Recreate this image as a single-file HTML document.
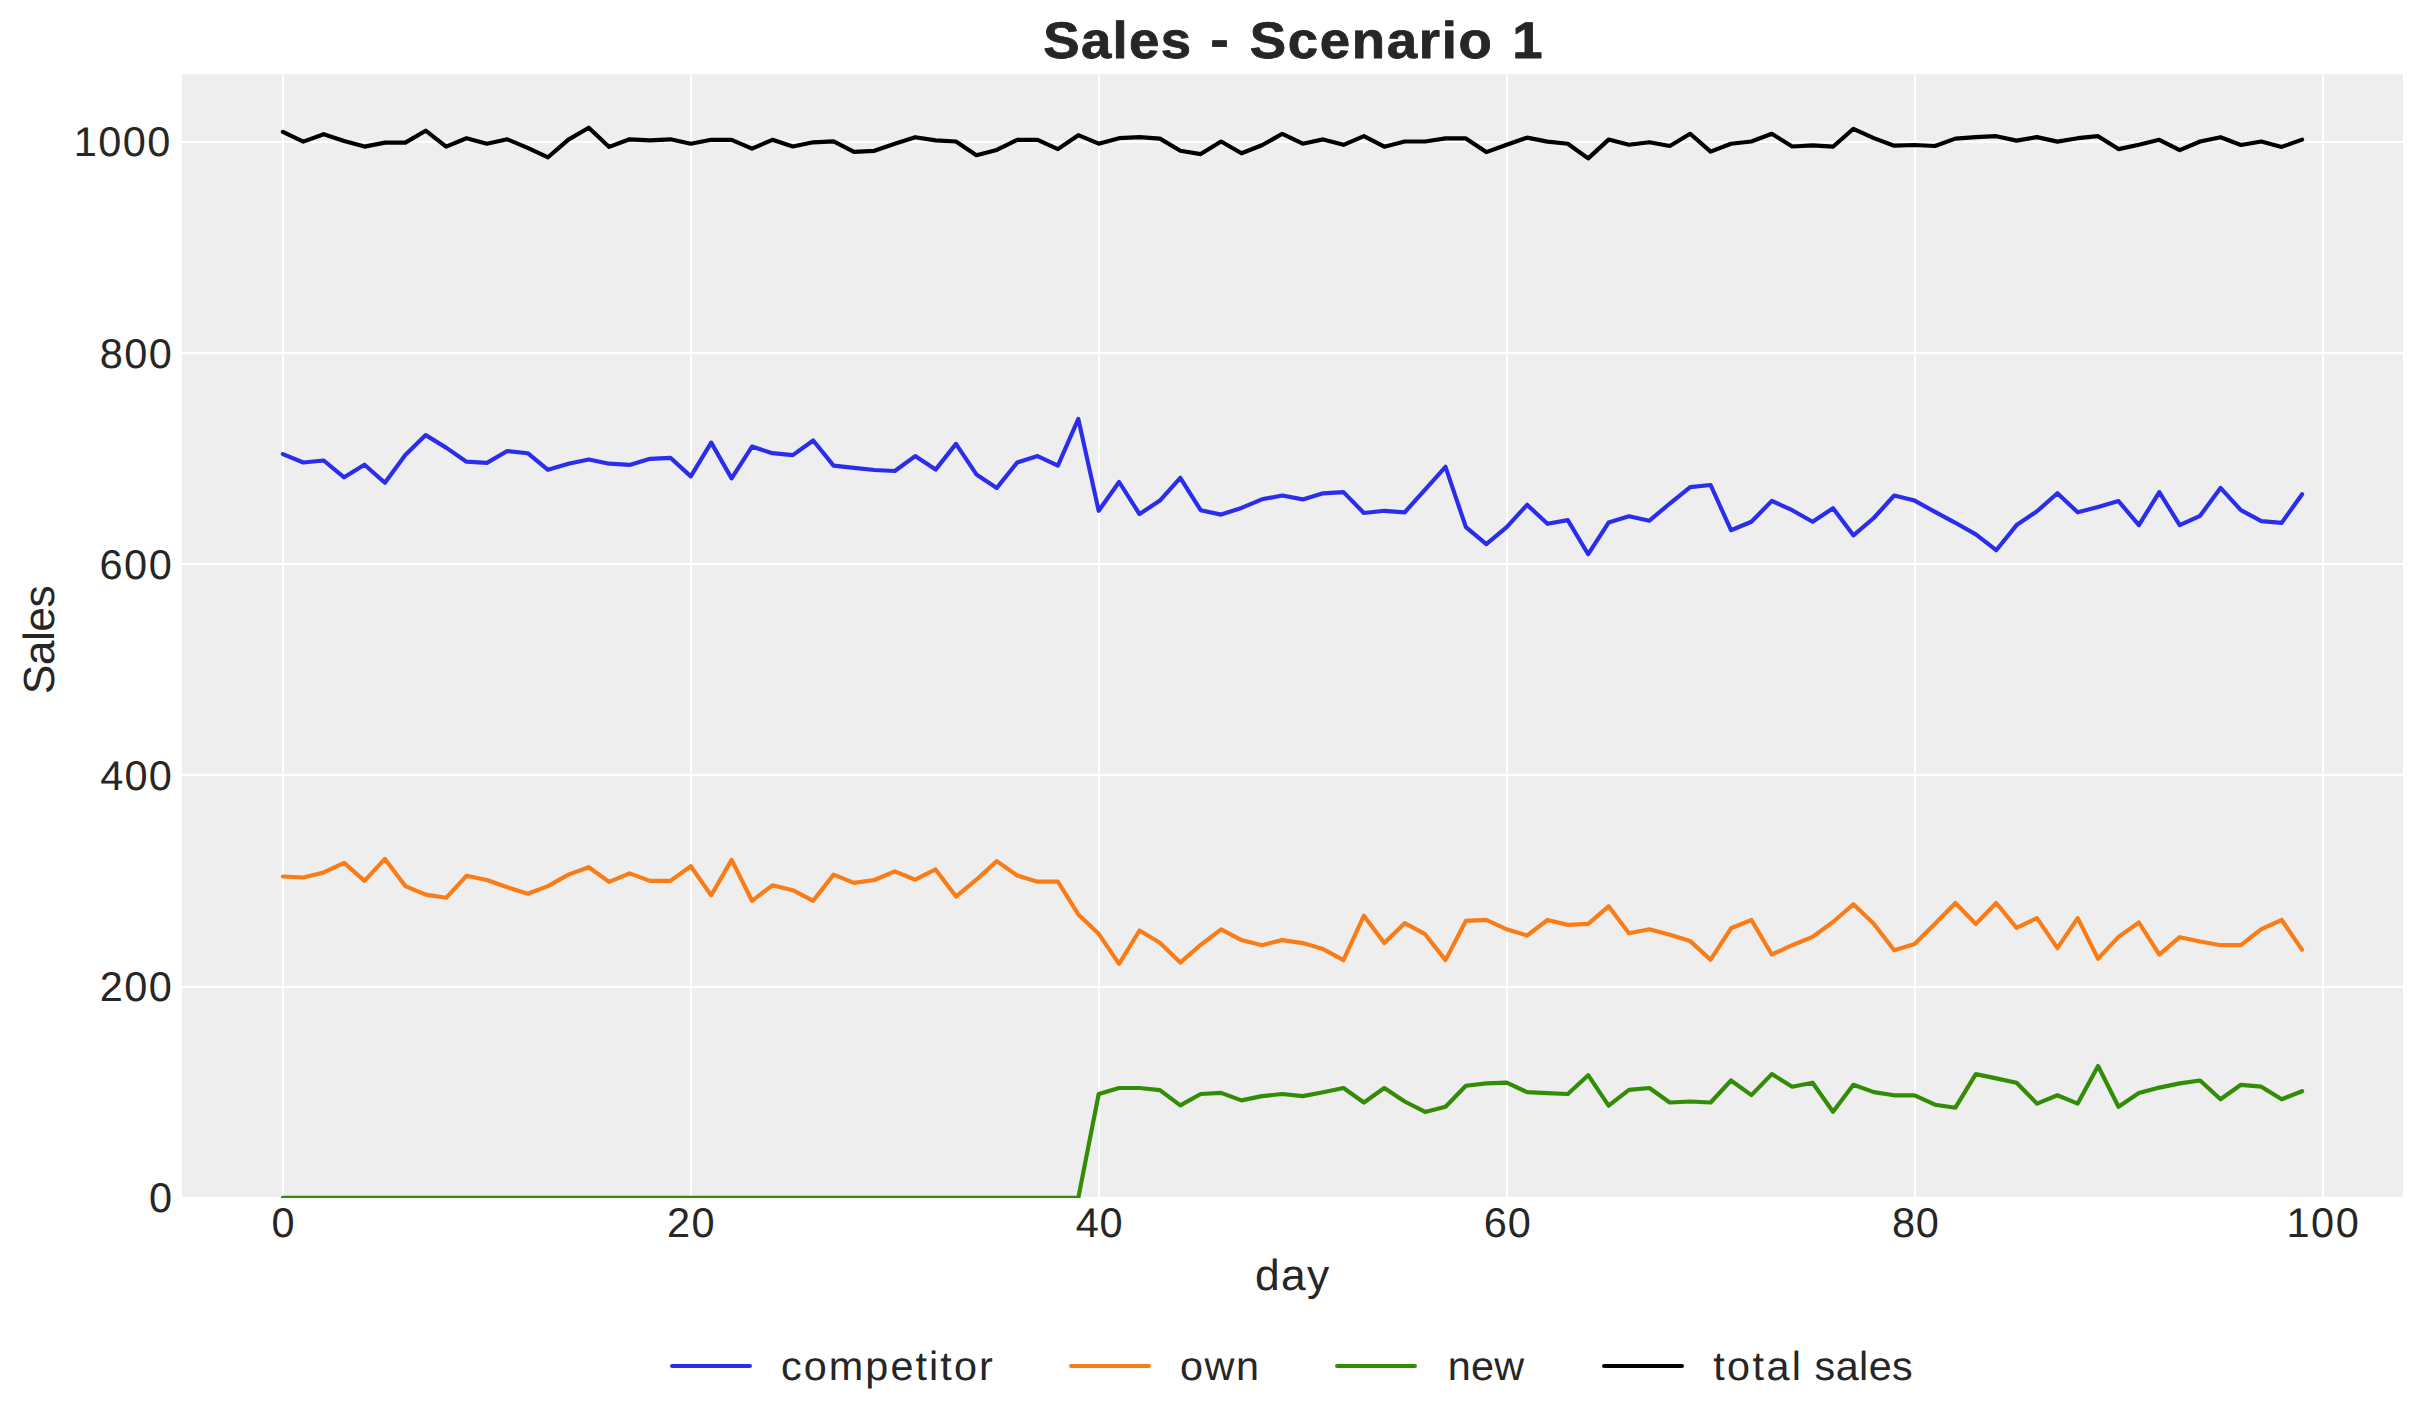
<!DOCTYPE html>
<html><head><meta charset="utf-8"><title>Sales - Scenario 1</title>
<style>
html,body{margin:0;padding:0;background:#ffffff;}
body{width:2423px;height:1423px;overflow:hidden;font-family:"Liberation Sans", sans-serif;}
svg{display:block;}
text{font-family:"Liberation Sans", sans-serif;fill:#262626;font-kerning:none;white-space:pre;text-rendering:geometricPrecision;}
.tk{font-size:41.5px;}
.lb{font-size:43.5px;}
.lg{font-size:40.6px;}
.tt{font-size:51.5px;font-weight:bold;}
.ln{fill:none;stroke-width:4.17;stroke-linecap:round;stroke-linejoin:round;}
.grid{fill:#ffffff;}
</style></head><body>
<svg width="2423" height="1423" viewBox="0 0 2423 1423">
<rect x="0" y="0" width="2423" height="1423" fill="#ffffff"/>
<rect x="182.0" y="74.0" width="2221.00" height="1122.90" fill="#eeeeee"/>
<defs>
<clipPath id="ax"><rect x="182.0" y="74.0" width="2221.00" height="1122.90"/></clipPath>
<clipPath id="axl"><rect x="182.0" y="74.0" width="2221.00" height="1124.00"/></clipPath>
</defs>
<g clip-path="url(#ax)">
<rect class="grid" x="282.0" y="74.0" width="2" height="1122.90"/>
<rect class="grid" x="690.0" y="74.0" width="2" height="1122.90"/>
<rect class="grid" x="1098.0" y="74.0" width="2" height="1122.90"/>
<rect class="grid" x="1506.0" y="74.0" width="2" height="1122.90"/>
<rect class="grid" x="1914.0" y="74.0" width="2" height="1122.90"/>
<rect class="grid" x="2322.0" y="74.0" width="2" height="1122.90"/>
<rect class="grid" x="182.0" y="986.0" width="2221.00" height="2"/>
<rect class="grid" x="182.0" y="774.0" width="2221.00" height="2"/>
<rect class="grid" x="182.0" y="563.0" width="2221.00" height="2"/>
<rect class="grid" x="182.0" y="352.0" width="2221.00" height="2"/>
<rect class="grid" x="182.0" y="141.0" width="2221.00" height="2"/>
</g>
<g clip-path="url(#axl)">
<path class="ln" stroke="#2a2eec" d="M282.9,454.1 L303.3,462.5 L323.7,460.5 L344.1,477.3 L364.5,464.7 L384.9,482.8 L405.3,454.9 L425.7,435.1 L446.1,447.6 L466.5,461.7 L486.9,462.9 L507.3,451.0 L527.7,453.2 L548.0,469.8 L568.4,463.7 L588.8,459.5 L609.2,463.7 L629.6,464.9 L650.0,458.8 L670.4,457.8 L690.8,476.4 L711.2,442.6 L731.6,478.4 L752.0,446.6 L772.4,453.2 L792.8,455.1 L813.2,440.5 L833.6,465.6 L854.0,467.9 L874.4,470.0 L894.8,471.0 L915.2,456.1 L935.6,469.6 L956.0,443.9 L976.4,474.4 L996.8,487.9 L1017.2,462.5 L1037.6,456.1 L1057.9,465.6 L1078.3,418.9 L1098.7,510.8 L1119.1,482.0 L1139.5,514.1 L1159.9,500.6 L1180.3,477.8 L1200.7,510.2 L1221.1,514.6 L1241.5,507.9 L1261.9,499.3 L1282.3,495.5 L1302.7,499.4 L1323.1,493.3 L1343.5,492.1 L1363.9,513.0 L1384.3,510.8 L1404.7,512.3 L1425.1,489.6 L1445.5,466.8 L1465.9,527.2 L1486.3,544.1 L1506.7,527.2 L1527.1,504.8 L1547.5,523.8 L1567.8,520.1 L1588.2,554.2 L1608.6,522.6 L1629.0,516.3 L1649.4,520.7 L1669.8,503.5 L1690.2,487.1 L1710.6,485.0 L1731.0,530.2 L1751.4,521.8 L1771.8,500.9 L1792.2,510.2 L1812.6,521.8 L1833.0,508.2 L1853.4,535.3 L1873.8,518.0 L1894.2,495.5 L1914.6,500.6 L1935.0,511.9 L1955.4,522.8 L1975.8,534.4 L1996.2,550.2 L2016.6,525.1 L2037.0,511.3 L2057.4,493.3 L2077.7,512.3 L2098.1,506.9 L2118.5,501.1 L2138.9,525.1 L2159.3,492.1 L2179.7,525.1 L2200.1,515.8 L2220.5,487.9 L2240.9,510.2 L2261.3,521.1 L2281.7,522.8 L2302.1,494.2"/>
<path class="ln" stroke="#fa7c17" d="M282.9,876.5 L303.3,877.5 L323.7,872.4 L344.1,862.9 L364.5,880.9 L384.9,858.9 L405.3,886.1 L425.7,894.6 L446.1,897.8 L466.5,875.8 L486.9,880.0 L507.3,887.3 L527.7,893.7 L548.0,886.1 L568.4,874.6 L588.8,867.2 L609.2,881.9 L629.6,873.4 L650.0,880.9 L670.4,880.9 L690.8,866.2 L711.2,895.4 L731.6,859.9 L752.0,900.8 L772.4,885.3 L792.8,890.2 L813.2,900.8 L833.6,874.6 L854.0,882.9 L874.4,880.0 L894.8,871.4 L915.2,879.7 L935.6,869.4 L956.0,896.6 L976.4,879.7 L996.8,861.1 L1017.2,875.5 L1037.6,881.7 L1057.9,881.7 L1078.3,914.4 L1098.7,933.8 L1119.1,963.8 L1139.5,930.5 L1159.9,942.8 L1180.3,962.6 L1200.7,944.8 L1221.1,929.3 L1241.5,940.1 L1261.9,945.2 L1282.3,940.1 L1302.7,943.1 L1323.1,949.1 L1343.5,960.1 L1363.9,915.7 L1384.3,943.1 L1404.7,923.2 L1425.1,934.2 L1445.5,960.1 L1465.9,920.8 L1486.3,919.8 L1506.7,929.3 L1527.1,935.5 L1547.5,920.0 L1567.8,924.9 L1588.2,923.9 L1608.6,906.3 L1629.0,933.3 L1649.4,929.3 L1669.8,934.7 L1690.2,941.1 L1710.6,959.7 L1731.0,928.3 L1751.4,920.0 L1771.8,954.5 L1792.2,945.2 L1812.6,936.9 L1833.0,922.0 L1853.4,904.2 L1873.8,923.7 L1894.2,950.2 L1914.6,944.0 L1935.0,923.7 L1955.4,903.0 L1975.8,924.0 L1996.2,903.0 L2016.6,927.9 L2037.0,918.1 L2057.4,948.2 L2077.7,918.1 L2098.1,958.7 L2118.5,936.9 L2138.9,922.5 L2159.3,954.6 L2179.7,937.2 L2200.1,941.5 L2220.5,945.2 L2240.9,945.2 L2261.3,929.1 L2281.7,920.0 L2302.1,949.9"/>
<path class="ln" stroke="#328c06" d="M282.9,1197.8 L303.3,1197.8 L323.7,1197.8 L344.1,1197.8 L364.5,1197.8 L384.9,1197.8 L405.3,1197.8 L425.7,1197.8 L446.1,1197.8 L466.5,1197.8 L486.9,1197.8 L507.3,1197.8 L527.7,1197.8 L548.0,1197.8 L568.4,1197.8 L588.8,1197.8 L609.2,1197.8 L629.6,1197.8 L650.0,1197.8 L670.4,1197.8 L690.8,1197.8 L711.2,1197.8 L731.6,1197.8 L752.0,1197.8 L772.4,1197.8 L792.8,1197.8 L813.2,1197.8 L833.6,1197.8 L854.0,1197.8 L874.4,1197.8 L894.8,1197.8 L915.2,1197.8 L935.6,1197.8 L956.0,1197.8 L976.4,1197.8 L996.8,1197.8 L1017.2,1197.8 L1037.6,1197.8 L1057.9,1197.8 L1078.3,1197.8 L1098.7,1094.0 L1119.1,1088.0 L1139.5,1088.0 L1159.9,1090.1 L1180.3,1105.4 L1200.7,1094.0 L1221.1,1092.9 L1241.5,1100.4 L1261.9,1096.1 L1282.3,1094.0 L1302.7,1096.1 L1323.1,1092.2 L1343.5,1088.0 L1363.9,1102.5 L1384.3,1088.0 L1404.7,1101.5 L1425.1,1111.9 L1445.5,1106.8 L1465.9,1085.8 L1486.3,1083.4 L1506.7,1082.7 L1527.1,1092.1 L1547.5,1093.1 L1567.8,1094.0 L1588.2,1075.2 L1608.6,1105.7 L1629.0,1089.9 L1649.4,1088.0 L1669.8,1102.5 L1690.2,1101.5 L1710.6,1102.5 L1731.0,1080.5 L1751.4,1095.1 L1771.8,1074.1 L1792.2,1086.7 L1812.6,1082.7 L1833.0,1111.8 L1853.4,1084.8 L1873.8,1092.1 L1894.2,1095.3 L1914.6,1095.3 L1935.0,1104.7 L1955.4,1107.7 L1975.8,1074.1 L1996.2,1078.4 L2016.6,1082.7 L2037.0,1103.6 L2057.4,1095.3 L2077.7,1103.6 L2098.1,1066.0 L2118.5,1106.8 L2138.9,1093.1 L2159.3,1087.6 L2179.7,1083.4 L2200.1,1080.5 L2220.5,1099.3 L2240.9,1084.8 L2261.3,1086.7 L2281.7,1099.3 L2302.1,1091.2"/>
<path class="ln" stroke="#000000" d="M282.9,131.9 L303.3,141.6 L323.7,134.2 L344.1,140.9 L364.5,146.6 L384.9,142.6 L405.3,142.6 L425.7,130.7 L446.1,146.6 L466.5,138.3 L486.9,143.7 L507.3,139.3 L527.7,147.9 L548.0,157.3 L568.4,139.6 L588.8,127.7 L609.2,146.9 L629.6,139.3 L650.0,140.3 L670.4,139.3 L690.8,143.7 L711.2,139.8 L731.6,139.8 L752.0,148.7 L772.4,139.8 L792.8,146.5 L813.2,142.3 L833.6,141.3 L854.0,151.8 L874.4,150.8 L894.8,143.7 L915.2,137.2 L935.6,140.4 L956.0,141.5 L976.4,155.2 L996.8,149.9 L1017.2,139.8 L1037.6,139.8 L1057.9,149.1 L1078.3,135.2 L1098.7,143.7 L1119.1,138.2 L1139.5,137.2 L1159.9,138.6 L1180.3,150.8 L1200.7,154.1 L1221.1,141.5 L1241.5,153.3 L1261.9,145.3 L1282.3,133.8 L1302.7,143.7 L1323.1,139.4 L1343.5,144.8 L1363.9,136.2 L1384.3,146.7 L1404.7,141.5 L1425.1,141.5 L1445.5,138.4 L1465.9,138.4 L1486.3,152.1 L1506.7,144.8 L1527.1,137.6 L1547.5,141.6 L1567.8,143.7 L1588.2,158.4 L1608.6,139.6 L1629.0,144.8 L1649.4,142.3 L1669.8,146.0 L1690.2,133.8 L1710.6,151.6 L1731.0,143.7 L1751.4,141.5 L1771.8,133.8 L1792.2,146.5 L1812.6,145.3 L1833.0,146.7 L1853.4,128.8 L1873.8,138.1 L1894.2,145.7 L1914.6,145.0 L1935.0,146.0 L1955.4,138.6 L1975.8,137.2 L1996.2,136.2 L2016.6,140.6 L2037.0,137.1 L2057.4,141.6 L2077.7,138.2 L2098.1,136.2 L2118.5,149.1 L2138.9,144.8 L2159.3,139.8 L2179.7,150.1 L2200.1,141.5 L2220.5,137.2 L2240.9,145.0 L2261.3,141.5 L2281.7,146.9 L2302.1,139.6"/>
</g>
<text class="tk" transform="translate(73.84,156.35) scale(1.0,1)" x="0" y="0" style="letter-spacing:1.354px">1000</text>
<text class="tk" transform="translate(99.80,367.50) scale(1.0,1)" x="0" y="0" style="letter-spacing:1.392px">800</text>
<text class="tk" transform="translate(99.49,578.65) scale(1.0,1)" x="0" y="0" style="letter-spacing:1.544px">600</text>
<text class="tk" transform="translate(100.25,789.80) scale(1.0,1)" x="0" y="0" style="letter-spacing:1.166px">400</text>
<text class="tk" transform="translate(99.71,1000.95) scale(1.0,1)" x="0" y="0" style="letter-spacing:1.434px">200</text>
<text class="tk" transform="translate(148.98,1212.10) scale(1.0,1)" x="0" y="0" style="letter-spacing:0.000px">0</text>
<text class="tk" transform="translate(271.58,1237.00) scale(1.0,1)" x="0" y="0" style="letter-spacing:0.000px">0</text>
<text class="tk" transform="translate(666.91,1237.00) scale(1.0,1)" x="0" y="0" style="letter-spacing:1.548px">20</text>
<text class="tk" transform="translate(1075.85,1237.00) scale(1.0,1)" x="0" y="0" style="letter-spacing:0.613px">40</text>
<text class="tk" transform="translate(1483.69,1237.00) scale(1.0,1)" x="0" y="0" style="letter-spacing:0.968px">60</text>
<text class="tk" transform="translate(1892.00,1237.00) scale(1.0,1)" x="0" y="0" style="letter-spacing:0.664px">80</text>
<text class="tk" transform="translate(2286.44,1237.00) scale(1.0,1)" x="0" y="0" style="letter-spacing:1.571px">100</text>
<text class="lb" transform="translate(1254.94,1290.00) scale(1.02,1)" x="0" y="0" style="letter-spacing:1.378px">day</text>
<text class="lb" transform="translate(54.4,694.21) rotate(-90) scale(1.02,1)" x="0" y="0" style="letter-spacing:-0.508px">Sales</text>
<text class="tt" transform="translate(0,58.30) scale(1.06,1)" y="0" stroke="#262626" stroke-width="0.8" stroke-linejoin="round"><tspan x="984.20" style="letter-spacing:1.228px">Sales</tspan> <tspan x="1141.92" dy="-0.90" style="letter-spacing:0.000px">-</tspan> <tspan x="1178.92" dy="0.90" style="letter-spacing:1.572px">Scenario</tspan> <tspan x="1426.75" style="letter-spacing:0.000px">1</tspan></text>
<line class="ln" stroke="#2a2eec" x1="672.1" x2="749.9" y1="1366.0" y2="1366.0"/>
<text class="lg" transform="translate(780.94,1379.50) scale(1.02,1)" x="0" y="0" style="letter-spacing:2.028px">competitor</text>
<line class="ln" stroke="#fa7c17" x1="1071.1" x2="1148.9" y1="1366.0" y2="1366.0"/>
<text class="lg" transform="translate(1179.96,1379.50) scale(1.02,1)" x="0" y="0" style="letter-spacing:1.549px">own</text>
<line class="ln" stroke="#328c06" x1="1337.1" x2="1414.9" y1="1366.0" y2="1366.0"/>
<text class="lg" transform="translate(1447.85,1379.50) scale(1.02,1)" x="0" y="0" style="letter-spacing:0.137px">new</text>
<line class="ln" stroke="#000000" x1="1604.1" x2="1681.9" y1="1366.0" y2="1366.0"/>
<text class="lg" transform="translate(0,1379.50) scale(1.02,1)" y="0"><tspan x="1679.58" style="letter-spacing:2.359px">total</tspan> <tspan x="1778.97" style="letter-spacing:0.386px">sales</tspan></text>
</svg></body></html>
